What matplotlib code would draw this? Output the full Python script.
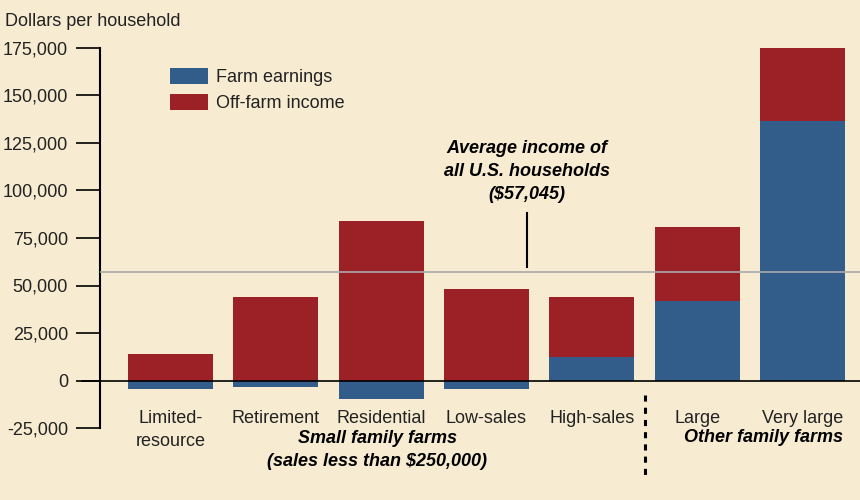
import matplotlib.pyplot as plt
import numpy as np

# data (dollars per household)
categories = ['Limited-\nresource', 'Retirement', 'Residential', 'Low-sales',
              'High-sales', 'Large', 'Very large']
farm_earnings = [-4700, -3200, -9500, -4700, 12600, 42000, 136500]
off_farm_income = [13700, 44100, 84100, 48300, 31500, 38900, 38500]
avg_income = 57045
yticks = [-25000, 0, 25000, 50000, 75000, 100000, 125000, 150000, 175000]

bg = '#f7ecd1'
blue = '#325d8a'
red = '#9c2127'
fs = 13
plt.rcParams['font.family'] = ['Liberation Sans', 'DejaVu Sans']

fig = plt.figure(figsize=(8.6, 5), dpi=100, facecolor=bg)
ax = fig.add_axes([100/860, 1 - 428/500, 760/860, 380/500])
ax.set_facecolor(bg)

x = np.arange(len(categories))
farm = np.array(farm_earnings)
off = np.array(off_farm_income)
# off-farm stacks on positive farm earnings, starts at 0 otherwise
off_bottom = np.where(farm > 0, farm, 0)
ax.bar(x, farm, width=0.807, color=blue, label='Farm earnings', zorder=2)
ax.bar(x, off, bottom=off_bottom, width=0.807, color=red, label='Off-farm income', zorder=2)

ax.set_xlim(-0.669, 6.546)
ax.set_ylim(-25000, 175000)

ax.axhline(avg_income, color='#a9a9a9', lw=1.2, zorder=3)
ax.axhline(0, color='black', lw=1.2, zorder=4)
ax.plot([-0.669 - 18/105.33, -0.669], [0, 0], color='black', lw=1.2, clip_on=False)

for s in ['top', 'right', 'bottom']:
    ax.spines[s].set_visible(False)
ax.spines['left'].set_linewidth(1.5)
ax.set_yticks(yticks)
ax.set_yticklabels(['{:,}'.format(v) for v in yticks], fontsize=fs, color='#222222')
ax.tick_params(axis='y', length=17, width=1.2, pad=6)
ax.set_xticks([])

for i, c in enumerate(categories):
    ax.text(i, -15500, c, ha='center', va='top', fontsize=fs, color='#222222',
            linespacing=1.45)

fig.text(5/860, 1 - 22/500, 'Dollars per household', fontsize=fs, va='center',
         color='#222222')

# annotation for average income
ax.text(3.38, 110000, 'Average income of\nall U.S. households\n($57,045)', ha='center',
        va='center', fontsize=fs, fontweight='bold', fontstyle='italic', linespacing=1.45)
ax.plot([3.38, 3.38], [avg_income + 2500, 88000], color='black', lw=1.5)

# group labels and separator
fig.text(377/860, 1 - 450/500, 'Small family farms\n(sales less than $250,000)', ha='center',
         va='center', fontsize=fs, fontweight='bold', fontstyle='italic', linespacing=1.5)
fig.text(763/860, 1 - 437/500, 'Other family farms', ha='center', va='center',
         fontsize=fs, fontweight='bold', fontstyle='italic')
fig.add_artist(plt.Line2D([645/860, 645/860], [1 - 395/500, 1 - 475/500], color='black',
                          lw=2.2, linestyle=(0, (2, 2))))

leg = ax.legend(loc='upper left', bbox_to_anchor=(63/760, 1 - 13/380), frameon=False,
                fontsize=fs, handlelength=2.1, handleheight=1.0, handletextpad=0.45,
                labelspacing=0.4, borderaxespad=0)
for t in leg.get_texts():
    t.set_color('#222222')

fig.savefig('out.png', dpi=100, facecolor=bg)
